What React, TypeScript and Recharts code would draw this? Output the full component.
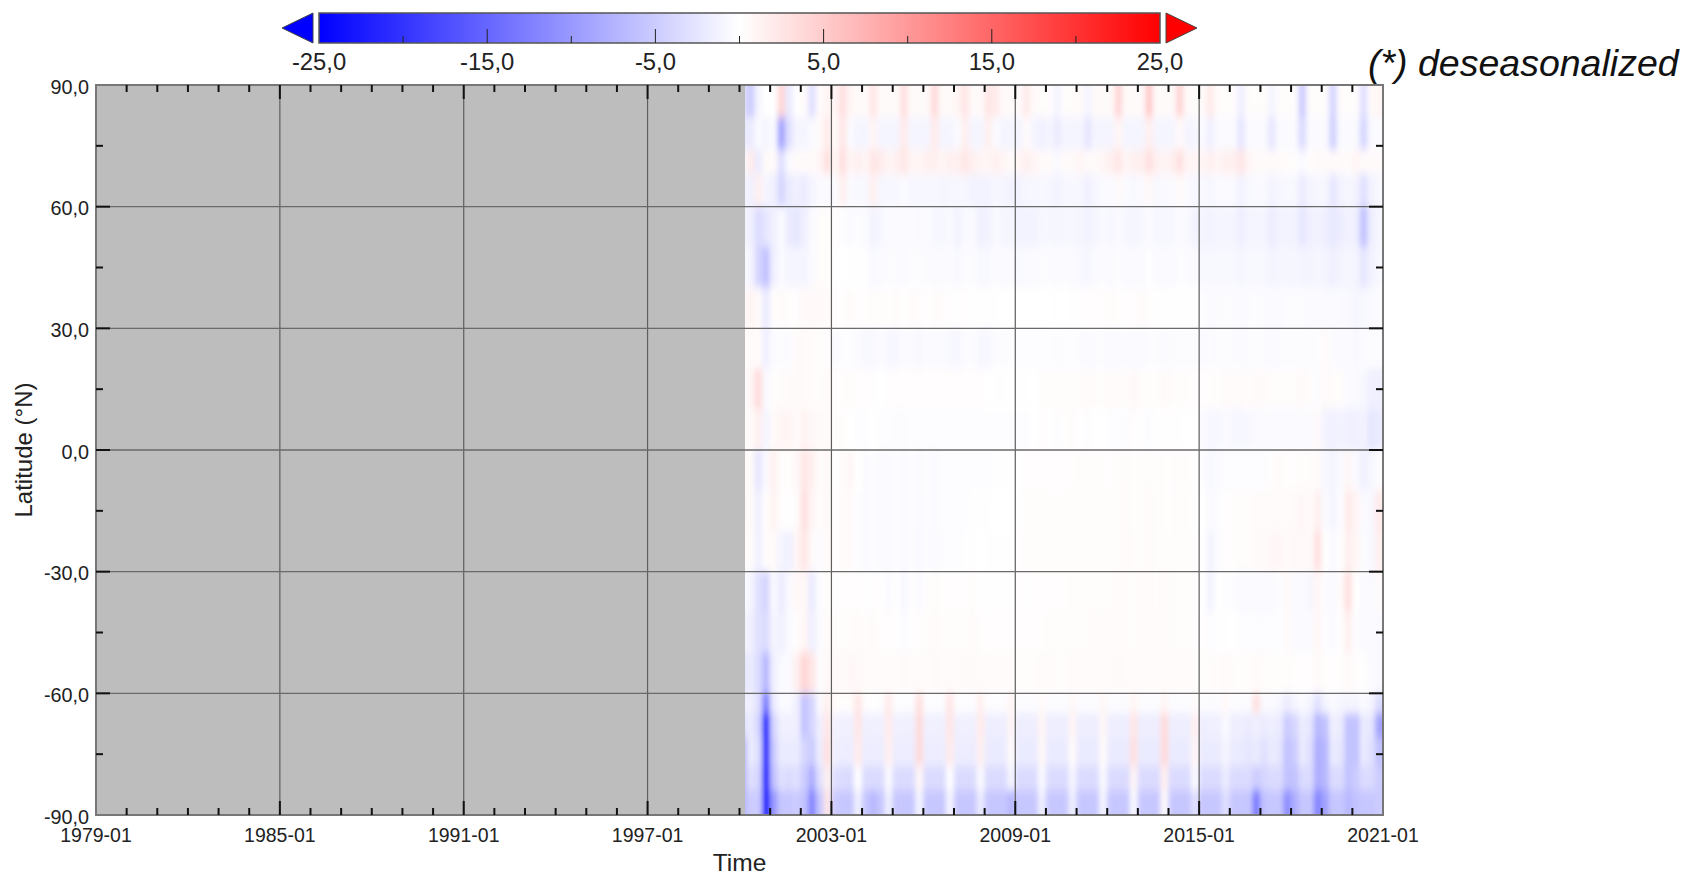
import { ScatterChart, Scatter, XAxis, YAxis, ReferenceArea, ReferenceLine } from "recharts";

// latitude band edges, north to south
const latEdges = [90, 82, 74, 68, 60, 50, 40, 30, 20, 10, 0, -10, -20, -30, -40, -50, -60, -65, -71, -78, -84, -90];

// anomaly per band, four values per year from 2000 to 2020
const band90 = [-3,-5,-1,0, 0,4,-2,0, .5,-3,.5,1, 1,3,1,.5, .5,2.5,.5,.5, .5,3,.5,.5, .5,3.5,.5,.5, 1,2.5,.5,.5, 2.5,2,.5,.5, .5,2,.5,.3, .3,-1,.3,.3, .5,-1,.5,.5, .5,4,.5,.5, .5,5,.5,.5, .5,4,.5,.3, .5,2,.3,.3, .3,-1.5,.3,.3, .3,-1,.3,.3, .3,-5,.3,.3, .3,-4,.3,.3, .3,-3,.5,1];
const band82 = [-2,-2,-.5,-1, -.5,-9,-3,-1, -1,-.5,.5,2, .5,2.5,-.5,-1, -1,1,-1,-1, -1,2,-1,-1, -1,2,-1,-1, -.5,1.5,-1,-1, 1.5,-.5,-1,-1, -1,.5,-1,-1.5, -1,-2,-1,-1, -1,-2.5,-1,-1, -1,1,-1,-1, -1,1.5,-1,-1, -1,.5,-1,-1, -.5,-1.5,-.5,-.5, -.5,-2.5,-.5,-.5, -.5,-2.5,-.5,-.5, -.5,-3.5,-.5,-.5, -.5,-4.5,-.5,-.5, -.5,-4,-.5,-.5];
const band74 = [-.5,2,-2,.5, .5,-3,-.5,.5, .5,.5,1,3, 1,3,1,1.5, 1,2.5,2,1, 1.5,2.5,1,1, 1.5,1.5,1,1.5, 1.5,2.5,1.5,1, 1,1.5,1,.5, 1,1.5,1,.5, .5,-.5,.5,.5, 1,.5,.5,1, 1.5,2.5,1,1.5, 1.5,3,1.5,1, 1.5,3,1,1, 1,1.5,1,1.5, 1.5,2.5,1,.5, .5,.5,.5,.3, .3,-.5,.3,.5, .5,.5,.5,.3, 1,.5,.5,.5];
const band68 = [-1,-1.5,1.5,-1, -1.5,-4,-2,-1.5, -2,-1,-.5,-.5, -.3,1.5,-.5,-.7, -.7,1.5,-.8,-.8, -.8,-.5,-.8,-.8, -.8,-.7,-1,-.8, -.8,-.8,-1.2,-1.2, -1.2,-.8,-1,-1.2, -1.2,-.8,-.8,-.7, -.8,-1.2,-.8,-.7, -.8,-1.5,-.8,-.5, -.5,.5,-.5,-.7, -.5,.7,-.7,-.6, -.5,.5,-.5,-.8, -.6,-.8,-.5,-.5, -.6,-1.2,-.7,-.6, -.6,-1.2,-.8,-.7, -.7,-2,-1,-.8, -.8,-2.5,-1.2,-.8, -1.2,-3,-1.2,-.7];
const band60 = [-1,-1.5,-3.5,-2.5, -1.5,-.5,-2,-2.5, -1.5,-.5,.3,.3, .2,-.2,-.4,-.2, -.4,-1.2,-.8,-.4, -.4,-.6,-.4,-.6, -.4,-.8,-.8,-.6, -1.2,-.6,-.6,-1.4, -1.2,-.6,-.9,-.9, -1.2,-1.2,-1.2,-.8, -.8,-.9,-.8,-.8, -.9,-1.2,-.9,-.6, -.8,-.5,-.8,-.9, -.8,-.4,-.8,-.8, -.8,-.4,-.6,-1.2, -1,-1.2,-1,-1, -1,-1.7,-1,-1, -1,-1.9,-1.2,-1.2, -1.2,-2.5,-1.5,-1.2, -1.7,-2.2,-1.9,-1.2, -1.7,-6,-1.7,-.8];
const band50 = [-.5,-1,-4,-6, -1.5,-.5,-1,-1, -1,-.5,.3,.3, 0,0,-.1,-.1, -.1,-.7,-.5,-.3, -.3,-.5,-.2,-.3, -.3,-.5,-.5,-.3, -.7,-.3,-.3,-.7, -.7,-.3,-.5,-.5, -.7,-.5,-.5,-.3, -.3,-.5,-.3,-.5, -.7,-.8,-.5,-.3, -.5,-.2,-.5,-.5, -.5,-.1,-.5,-.5, -.5,-.2,-.3,-.5, -.7,-.7,-.7,-.7, -.7,-.9,-.7,-.7, -.7,-1.1,-.9,-.9, -.9,-1.1,-1.1,-.9, -1.1,-1.5,-1.1,-.9, -1.1,-2.5,-1.2,-.7];
const band40 = [.5,1.2,.4,-2, .2,.4,.2,.2, .6,.6,.6,.4, .2,.2,.4,.2, .2,.3,.3,.2, .4,.1,.4,.3, .1,.4,.3,.1, .1,.2,.1,.1, .1,.1,0,0, 0,0,0,0, 0,.1,0,.1, .1,.2,.2,.2, .3,.2,.1,.2, .4,.2,.1,.1, .1,.1,.1,.1, -.2,-.4,-.3,-.3, -.3,-.4,-.3,-.2, -.3,-.4,-.4,-.3, -.3,-.3,-.4,-.4, -.6,-.5,-.6,-.6, -.9,-.7,-.6,-.3];
const band30 = [.3,.5,.3,-1.5, -.3,-.3,-.3,.5, .5,.3,.3,.2, -.5,-.2,-.2,-.5, -.7,-.7,-.3,-.8, -.8,-.3,-.5,-.7, -.3,-.5,-.3,-.7, -.8,-.3,-.3,-.8, -.8,-.3,-.3,-.2, -.2,-.2,-.2,-.2, -.2,-.3,-.2,-.2, -.3,-.5,-.3,-.3, -.5,-.5,-.3,-.5, -.5,-.3,-.3,-.4, -.3,-.3,-.3,-.3, -.4,-.3,-.3,-.3, -.3,-.4,-.3,-.3, -.3,-.4,-.3,-.3, -.3,-.3,-.3,-.2, .5,-.3,-.5,-.3, -.7,-.3,-.3,-.3];
const band20 = [.3,1,3.5,-.5, .3,.3,.5,.5, .5,.3,.3,.5, .2,.2,.3,.2, .2,.2,0,.2, .2,.2,.2,.2, .2,.2,.2,.2, .2,.2,.2,.2, 0,.1,.1,0, .1,.1,0,.3, .3,.3,.3,.3, .3,.5,.3,.3, .5,.3,.3,.7, .3,.3,.3,.5, .3,.3,.2,.2, .2,.2,.2,.5, .3,.5,.3,.5, .5,.3,.3,.3, .3,.5,.3,-.3, .5,.3,.3,-.5, -.5,-.8,-1.5,-1.5];
const band10 = [.5,.5,1.5,-1, .5,1,1,.5, 1.2,.7,.5,.5, .2,.3,0,-.2, -.2,0,-.2,-.2, -.3,-.3,-.2,-.2, -.2,-.2,-.2,-.2, -.2,-.2,-.2,-.2, -.2,-.2,-.2,-.2, -.2,-.2,0,.2, 0,-.2,.2,.3, .1,-.2,0,0, -.2,-.2,-.2,.2, .1,-.3,.1,.1, .1,.1,0,0, -.5,-.8,-.8,-.5, -.8,-.8,-.7,-.5, -.5,-.5,-.5,-.5, -.5,-.5,-.5,.5, -1.2,-1.5,-1.2,-1.5, -1.5,-1.2,-2.5,-2];
const band0 = [.7,.5,-2.5,-.5, 1.5,.2,.2,.7, 2.5,1.5,.3,.7, 0,.5,.8,0, -.4,-.2,-.5,-.5, -.2,-.5,-.2,-.5, -.2,-.5,-.2,-.2, -.2,-.2,-.2,-.2, -.2,-.1,-.1,-.1, 0,.2,.2,.2, .2,.2,.2,.2, .3,.3,.3,.2, .2,.3,.3,.2, .3,.3,.3,.2, .2,.3,.3,.1, -.2,-.8,-.4,-.2, -.2,-.2,-.2,-.2, -.2,.2,.4,.2, .2,.3,.3,.5, -.7,-1,-.5,.8, -.5,-1.5,-.8,-.2];
const bandS10 = [.8,.5,-1.5,.2, 1.2,.2,.1,.3, 3,1,.2,.7, .1,.4,.4,-.2, -.4,-.2,-.5,-.6, -.2,-.6,-.2,-.6, -.2,-.5,-.2,-.2, -.2,-.2,-.1,-.1, -.1,0,0,.1, .1,.3,.3,.3, .3,.2,.3,.3, .3,.3,.3,.3, .3,.3,.4,.2, .3,.4,.3,.2, .2,.3,.3,.1, 0,-.4,-.2,.2, .2,.3,.3,.4, .4,.4,.4,.4, .6,.8,.4,1.5, -.5,-1,-.3,2, 1,-.5,-.7,2];
const bandS20 = [.5,.3,-1.5,.3, .5,-1,-1.5,1, 2.5,.5,-.3,.5, .1,.4,.4,-.2, -.5,-.2,-.6,-.6, -.2,-.6,-.2,-.7, -.2,-.6,-.2,-.2, -.2,-.1,-.1,0, -.1,.1,.1,.1, .2,.3,.3,.3, .3,.3,.3,.3, .3,.3,.3,.3, .3,.3,.4,.3, .3,.4,.3,.3, .2,.3,.3,.2, 0,-1.2,-.3,.2, .2,.3,.3,.5, .5,.8,.8,.5, .7,.7,.4,3, 0,-.5,.2,1.5, 1,-.3,-.7,1.5];
const bandS30 = [-.5,-1,-3,-4, -.5,-2,-.5,.7, .7,-2,-.3,.3, .1,.2,.2,.2, .1,.2,.1,-.4, .1,-.8,.2,-.5, .2,.3,.2,.2, .2,.2,.3,.1, .1,.1,.1,.1, .2,.1,.2,.2, .2,.2,.2,.3, .3,.3,.3,.3, .3,.4,.3,.3, .4,.4,.3,.4, .3,.3,.3,.2, .1,-1.2,0,-.2, -.2,-.6,-.4,-.5, -.4,-.5,-.2,.6, -.4,-.4,-.8,.8, -.3,-.6,.4,3, 0,-.5,-.6,.5];
const bandS40 = [-1,-1.5,-3,-3.5, -1,-1.5,-.5,.2, 1,-1.5,-.5,.4, .3,.3,.3,.4, .3,.4,.2,.2, .2,-.3,.2,.2, .3,.4,.3,.3, .3,.3,.4,.2, .2,.2,.2,.2, .2,.2,.2,.2, .3,.3,.3,.3, .3,.3,.4,.3, .4,.4,.3,.3, .4,.4,.4,.4, .3,.3,.3,.2, .2,-.2,.1,.1, 0,-.2,-.2,-.2, -.2,-.2,-.2,.4, -.4,-.5,-.5,.8, -.2,-.4,.2,1.5, -.2,-.4,-.5,-.6];
const bandS50 = [-2.5,-2,-3.5,-7, -1.5,-.5,-.5,1.5, 4,2.5,-.3,.7, .6,.5,.8,.6, .4,.4,.4,.4, .4,.6,.4,.4, .4,.6,.4,.4, .4,.5,.5,.4, .4,.4,.4,.4, .3,.3,.3,.4, .4,.3,.3,.4, .4,.4,.4,.4, .4,.5,.4,.4, .4,.4,.4,.4, .4,.4,.4,.3, .3,.3,.3,.5, .3,.3,.3,.5, .3,.3,.2,.3, .2,.2,.1,.6, .2,.2,.2,.6, .2,.1,-.4,-.6];
const bandS60 = [-1.5,-1.5,-3,-13, -2,-.5,-.5,-1.5, -6,-4,-.5,1.5, .3,.2,.2,2.5, .2,.1,-.2,2, -.2,-.2,-.2,3, -.2,-.2,-.2,2.5, -.2,-.2,-.2,1.5, -.2,-.2,-.2,1, -.3,-.3,-.3,.5, -.3,-.3,-.3,.8, -.3,-.3,-.3,.8, -.3,-.3,-.3,1, -.3,-.3,-.3,1, -.3,-.3,-.3,.5, -.3,-.3,-.3,.7, -.3,-.3,-.3,3, -.5,-.5,-.8,-2, -1,-.5,-1,-3, -1,-.5,-1,-1, -1,-.5,-1,-3.5];
const bandS65 = [-3,-2,-4,-25, -4,-1.5,-1.5,-1.5, -6,-4,-1.5,2.5, -1.2,-1.5,-1.5,2.5, -1.5,-1.5,-1.5,2, -1.5,-1.5,-1.5,3.5, -1.5,-1.5,-1.5,2.5, -1.5,-1.5,-1.5,2, -1.7,-1.7,-1.7,1, -1.7,-1.7,-1.7,1, -1.7,-1.7,-1.7,1, -1.7,-1.7,-1.7,.8, -1.7,-1.7,-1.7,2.5, -1.7,-1.7,-1.7,3.5, -1.7,-1.7,-1.7,1.5, -1.7,-1.5,-1.5,-.5, -1.7,-1.7,-2,-1.5, -2,-1.7,-2,-5, -4,-1.8,-2.5,-7, -6,-1.5,-2,-6, -6,-2,-2.5,-9];
const bandS71 = [-7,-2,-3,-25, -5,-2,-2,-2, -4,-5,-1.8,3, -1.5,-1.8,-1.8,2, -1.8,-1.8,-1.8,1.5, -1.8,-1.8,-1.8,3.5, -1.8,-1.8,-1.8,2, -1.8,-1.8,-1.8,1.5, -2,-2,-2,.5, -2,-2,-2,.8, -2,-2,-2,.5, -2,-2,-2,.5, -2,-2,-2,3, -2,-2,-2,3.5, -2,-2,-2,1, -2,-2,-2,-1, -2,-2,-2.5,-2, -3,-2,-2.5,-6, -5,-2,-3,-8, -7,-2,-2.5,-6, -6,-2,-3,-6];
const bandS78 = [-7,-3,-4,-25, -6,-3,-3.5,-3, -5,-8,-3,1.5, -3,-3.5,-3.5,0, -3.5,-3.5,-3.5,-.5, -3.5,-3.5,-3.5,.8, -3.5,-3.5,-3.5,0, -3.5,-3.5,-3.5,-.5, -3.5,-3.5,-3.5,-1, -3.5,-3.5,-3.5,-.5, -3.5,-3.5,-3.5,-1, -3.5,-3.5,-3.5,-.5, -3.5,-3.5,-3.5,1, -3.5,-3.5,-3.5,1.5, -3.5,-3.5,-3.5,-.5, -3.5,-3.5,-3.5,-2, -3.5,-3.5,-3.5,-5, -4,-3.5,-3.5,-6, -6,-3.5,-3.5,-8, -7,-3.5,-3.5,-6, -5,-3.5,-3.5,-5];
const bandS84 = [-7,-5,-5,-25, -10,-5.5,-5.5,-5, -6,-12,-5.5,2.5, -5,-5.5,-5.5,-1.5, -5.5,-7,-5.5,-1.5, -5.5,-5.5,-5.5,-1, -5.5,-5.5,-5.5,-1, -5.5,-5.5,-5.5,-2, -5.5,-5.5,-5.5,-7, -5.5,-5.5,-5.5,-1.5, -5.5,-5.5,-5.5,-1.5, -5.5,-5.5,-5.5,-1, -5.5,-5.5,-5.5,-.5, -5.5,-5.5,-5.5,.5, -5.5,-5.5,-5.5,-3, -5.5,-5.5,-5.5,-3, -5.5,-5.5,-5.5,-13, -6,-5.5,-5.5,-11, -8,-5.5,-5.5,-12, -9,-5.5,-5.5,-7, -6,-5.5,-5.5,-5];

const bands = [band90, band82, band74, band68, band60, band50, band40, band30, band20, band10, band0, bandS10, bandS20, bandS30, bandS40, bandS50, bandS60, bandS65, bandS71, bandS78, bandS84];

const firstYear = 1979;
const lastYear = 2021;
const dataStart = 2000.18;
const colStart = 2000;
const colStep = 0.25;

const yearTicks = Array.from({ length: lastYear - firstYear + 1 }, (_, i) => firstYear + i);
const majorYears = yearTicks.filter((y) => (y - firstYear) % 6 === 0);
const latTicks = [-90, -75, -60, -45, -30, -15, 0, 15, 30, 45, 60, 75, 90];
const majorLats = latTicks.filter((v) => v % 30 === 0);
const scaleTicks = [-25, -20, -15, -10, -5, 0, 5, 10, 15, 20, 25];
const scaleLabels = [-25, -15, -5, 5, 15, 25];

const FONT = '"Liberation Sans", Arial, sans-serif';
const PLOT = { left: 96, top: 85, width: 1287, height: 730 };
const BAR = { left: 319, top: 13, width: 841, height: 30 };

function anomalyColor(v: number) {
  const t = Math.min(Math.abs(v) / 25, 1);
  const c = Math.round(255 * (1 - t));
  return v < 0 ? `rgb(${c},${c},255)` : `rgb(255,${c},${c})`;
}

const cells = bands.flatMap((row, r) =>
  row.map((v, c) => ({
    time: colStart + colStep * (c + 0.5),
    lat: (latEdges[r] + latEdges[r + 1]) / 2,
    span: latEdges[r] - latEdges[r + 1],
    v,
    r,
    c,
  }))
);

const pxPerYear = PLOT.width / (lastYear - firstYear);
const pxPerDeg = PLOT.height / 180;

function HeatCell(props: any) {
  const { cx, cy, payload } = props;
  const w = colStep * pxPerYear;
  const h = payload.span * pxPerDeg;
  // edge cells run past the plot so the blur does not fade at the border
  const padTop = payload.r === 0 ? 16 : 0;
  const padBottom = payload.r === bands.length - 1 ? 16 : 0;
  const padRight = payload.c === bands[0].length - 1 ? 12 : 0;
  return (
    <rect
      x={cx - w / 2 - 0.3}
      y={cy - h / 2 - padTop - 0.3}
      width={w + 0.6 + padRight}
      height={h + padTop + padBottom + 0.6}
      fill={anomalyColor(payload.v)}
    />
  );
}

function TimeTick({ x, y, payload }: any) {
  const major = majorYears.includes(payload.value);
  const len = major ? 14 : 7;
  const edge = payload.value === firstYear || payload.value === lastYear;
  return (
    <g>
      {!edge && <line x1={x} x2={x} y1={y} y2={y - len} stroke="#111" strokeWidth={2} />}
      {!edge && <line x1={x} x2={x} y1={y - PLOT.height} y2={y - PLOT.height + len} stroke="#111" strokeWidth={2} />}
      {major && (
        <text x={x} y={y + 27} textAnchor="middle" fontSize={19.5} fill="#222" fontFamily={FONT}>
          {payload.value}-01
        </text>
      )}
    </g>
  );
}

function LatTick({ x, y, payload }: any) {
  const major = majorLats.includes(payload.value);
  const len = major ? 14 : 7;
  const edge = Math.abs(payload.value) === 90;
  return (
    <g>
      {!edge && <line x1={x} x2={x + len} y1={y} y2={y} stroke="#111" strokeWidth={2} />}
      {!edge && <line x1={x + PLOT.width} x2={x + PLOT.width - len} y1={y} y2={y} stroke="#111" strokeWidth={2} />}
      {major && (
        <text x={x - 7} y={y + 8.5} textAnchor="end" fontSize={19.8} fill="#222" fontFamily={FONT}>
          {payload.value.toFixed(1).replace(".", ",")}
        </text>
      )}
    </g>
  );
}

function ScaleTick({ x, y, payload }: any) {
  const labelled = scaleLabels.includes(payload.value);
  const edge = Math.abs(payload.value) === 25;
  return (
    <g>
      {!edge && <line x1={x} x2={x} y1={y} y2={y - (labelled ? 14 : 7)} stroke="#222" strokeWidth={1} />}
      {labelled && (
        <text x={x} y={y + 27} textAnchor="middle" fontSize={23.8} fill="#222" fontFamily={FONT}>
          {payload.value.toFixed(1).replace(".", ",")}
        </text>
      )}
    </g>
  );
}

const scaleEnds = [
  { x: -25, y: 0.5, dir: -1 },
  { x: 25, y: 0.5, dir: 1 },
];

function ScaleEnd({ cx, cy, payload }: any) {
  const d = payload.dir;
  const half = BAR.height / 2;
  const pts = `${cx + d * 6},${cy - half} ${cx + d * 6},${cy + half} ${cx + d * 37},${cy}`;
  return <polygon points={pts} fill={d < 0 ? "#0000ff" : "#ff0000"} stroke="#444" strokeWidth={1} />;
}

export default function App() {
  return (
    <div style={{ position: "absolute", left: 0, top: 0, width: 1685, height: 874, background: "#fff", overflow: "hidden" }}>
      <style>{`.heat-layer{filter:url(#heatBlur);clip-path:url(#heatClip);}`}</style>
      <svg width={0} height={0} style={{ position: "absolute" }}>
        <defs>
          <filter id="heatBlur" x="-5%" y="-5%" width="110%" height="110%">
            <feGaussianBlur stdDeviation="2.4 5" />
          </filter>
          <clipPath id="heatClip">
            <rect x={PLOT.left} y={PLOT.top} width={PLOT.width} height={PLOT.height} />
          </clipPath>
          <linearGradient id="scaleGrad" x1="0" x2="1" y1="0" y2="0">
            <stop offset="0" stopColor="#0000ff" />
            <stop offset="0.5" stopColor="#ffffff" />
            <stop offset="1" stopColor="#ff0000" />
          </linearGradient>
        </defs>
      </svg>

      <div style={{ position: "absolute", left: 0, top: 0 }}>
        <ScatterChart
          width={1685}
          height={874}
          margin={{ top: PLOT.top, right: 1685 - PLOT.left - PLOT.width, bottom: 0, left: 0 }}
        >
          <XAxis
            type="number"
            dataKey="time"
            domain={[firstYear, lastYear]}
            ticks={yearTicks}
            interval={0}
            height={874 - PLOT.top - PLOT.height}
            axisLine={false}
            tickLine={false}
            tickSize={0}
            tickMargin={0}
            tick={<TimeTick />}
            zIndex={900}
            label={{ value: "Time", position: "insideBottom", offset: 3, fontSize: 24.5, fill: "#222", fontFamily: FONT }}
          />
          <YAxis
            type="number"
            dataKey="lat"
            domain={[-90, 90]}
            ticks={latTicks}
            interval={0}
            width={PLOT.left}
            axisLine={false}
            tickLine={false}
            tickSize={0}
            tickMargin={0}
            tick={<LatTick />}
            zIndex={900}
            label={{ value: "Latitude (°N)", angle: -90, position: "insideLeft", offset: 23, fontSize: 24, fill: "#222", fontFamily: FONT, style: { textAnchor: "middle" } }}
          />
          <Scatter
            data={cells}
            className="heat-layer"
            isAnimationActive={false}
            shape={(p: any) => <HeatCell {...p} />}
          />
          <ReferenceArea x1={firstYear} x2={dataStart} y1={-90} y2={90} fill="#bdbdbd" fillOpacity={1} stroke="none" zIndex={700} />
          {majorYears.slice(1, -1).map((y) => (
            <ReferenceLine key={y} x={y} stroke="#5e5e5e" strokeWidth={1.2} zIndex={750} />
          ))}
          {majorLats.slice(1, -1).map((v) => (
            <ReferenceLine key={v} y={v} stroke="#6a6a6a" strokeWidth={1.4} zIndex={750} />
          ))}
          <ReferenceArea x1={firstYear} x2={lastYear} y1={-90} y2={90} fill="none" stroke="#777" strokeWidth={2} zIndex={800} />
        </ScatterChart>
      </div>

      <div style={{ position: "absolute", left: 0, top: 0 }}>
        <ScatterChart
          width={1685}
          height={100}
          margin={{ top: BAR.top, right: 1685 - BAR.left - BAR.width, bottom: 0, left: BAR.left }}
        >
          <XAxis
            type="number"
            dataKey="x"
            domain={[-25, 25]}
            ticks={scaleTicks}
            interval={0}
            height={100 - BAR.top - BAR.height}
            axisLine={false}
            tickLine={false}
            tickSize={0}
            tickMargin={0}
            tick={<ScaleTick />}
            zIndex={900}
          />
          <YAxis type="number" dataKey="y" domain={[0, 1]} hide />
          <ReferenceArea x1={-25} x2={25} y1={0} y2={1} fill="url(#scaleGrad)" fillOpacity={1} stroke="#555" strokeWidth={1.5} />
          <Scatter data={scaleEnds} isAnimationActive={false} shape={(p: any) => <ScaleEnd {...p} />} />
        </ScatterChart>
      </div>

      <div
        style={{
          position: "absolute",
          left: 1368,
          top: 41,
          fontFamily: FONT,
          fontStyle: "italic",
          fontSize: 37.5,
          lineHeight: "44px",
          color: "#111",
          whiteSpace: "nowrap",
        }}
      >
        (*) deseasonalized
      </div>
    </div>
  );
}
